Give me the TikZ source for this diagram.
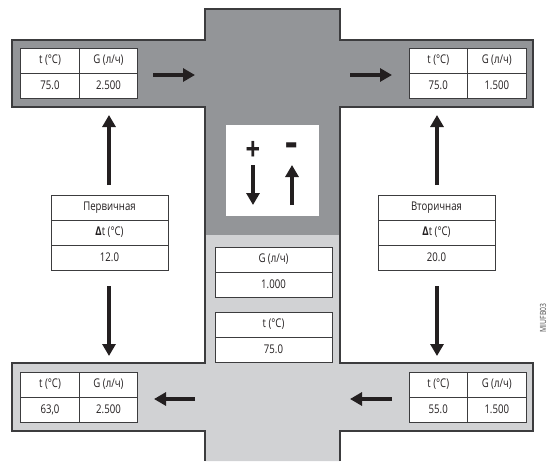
\documentclass[tikz,border=0pt]{standalone}
\usepackage{fontspec}
\setmainfont[FakeStretch=0.8]{Open Sans}
\usetikzlibrary{arrows.meta}
\definecolor{pipedark}{HTML}{939598}
\definecolor{pipelight}{HTML}{D1D2D4}
\definecolor{edgegray}{HTML}{3C3C3E}
\definecolor{ink}{HTML}{231F20}

\begin{document}
\begin{tikzpicture}[x=1pt,y=-1pt]
\tikzstyle{every node}+=[inner sep=0pt,text=ink]
\tikzstyle{cell}=[draw=edgegray,fill=white,line width=0.8pt,minimum width=58.5pt,minimum height=25pt,font=\fontsize{12}{13}\selectfont]
\tikzstyle{wide}=[cell,minimum width=117pt]
\tikzstyle{sign}=[font=\bfseries\fontsize{32}{32}\selectfont]
\tikzstyle{flow}=[ink,line width=3.6pt,-{Triangle[length=12pt,width=13pt]}]
\useasboundingbox (0,0) rectangle (548,461);
% pipes
\fill [pipedark] (12,40) -- (205,40) -- (205,9) -- (340,9) -- (340,40) -- (533,40) -- (533,107) -- (340,107) -- (340,235) -- (205,235) -- (205,107) -- (12,107) -- cycle;
\fill [pipelight] (205,235) -- (340,235) -- (340,363) -- (533,363) -- (533,431) -- (340,431) -- (340,461) -- (205,461) -- (205,431) -- (12,431) -- (12,363) -- (205,363) -- cycle;
\draw [edgegray,line width=1.3pt] (205,461) -- (205,431) -- (12,431) -- (12,363) -- (205,363) -- (205,107) -- (12,107) -- (12,40) -- (205,40) -- (205,9) -- (340,9) -- (340,40) -- (533,40) -- (533,107) -- (340,107) -- (340,363) -- (533,363) -- (533,431) -- (340,431) -- (340,461);
% supply / return tables
\node [cell] (tlt) at (50,60.5) {t (°C)};
\node [cell] (tlg) at (108.5,60.5) {G (л/ч)};
\node [cell] (tltv) at (50,85.5) {75.0};
\node [cell] (tlgv) at (108.5,85.5) {2.500};
\node [cell] (trt) at (438.25,60.5) {t (°C)};
\node [cell] (trg) at (496.75,60.5) {G (л/ч)};
\node [cell] (trtv) at (438.25,85.5) {75.0};
\node [cell] (trgv) at (496.75,85.5) {1.500};
\node [cell] (blt) at (50,384.5) {t (°C)};
\node [cell] (blg) at (108.5,384.5) {G (л/ч)};
\node [cell] (bltv) at (50,409.5) {63,0};
\node [cell] (blgv) at (108.5,409.5) {2.500};
\node [cell] (brt) at (438.25,384.5) {t (°C)};
\node [cell] (brg) at (496.75,384.5) {G (л/ч)};
\node [cell] (brtv) at (438.25,409.5) {55.0};
\node [cell] (brgv) at (496.75,409.5) {1.500};
% primary / secondary
\node [wide] (prim) at (109.5,207.5) {Первичная};
\node [wide] (primdt) at (109.5,232.5) {{\bfseries Δ}t (°C)};
\node [wide] (primv) at (109.5,257.5) {12.0};
\node [wide] (sec) at (436.5,207.5) {Вторичная};
\node [wide] (secdt) at (436.5,232.5) {{\bfseries Δ}t (°C)};
\node [wide] (secv) at (436.5,257.5) {20.0};
% bypass
\node [wide] (byg) at (273.5,259.5) {G (л/ч)};
\node [wide] (bygv) at (273.5,284.5) {1.000};
\node [wide] (byt) at (273.5,324.5) {t (°C)};
\node [wide] (bytv) at (273.5,349.5) {75.0};
\fill [white] (226,125) rectangle (319,216);
\node [sign] (plus) at (253,151) {+};
\node [sign] (minus) at (292,150) {\scalebox{1.5}[1.3]{-}};
% flow arrows
\coordinate (a1) at (153,75); \coordinate (b1) at (195,75);
\coordinate (a2) at (350,75); \coordinate (b2) at (392,75);
\coordinate (a3) at (195,399); \coordinate (b3) at (154,399);
\coordinate (a4) at (392,399); \coordinate (b4) at (350,399);
\coordinate (a5) at (109,185); \coordinate (b5) at (109,115);
\coordinate (a6) at (437,185); \coordinate (b6) at (437,115);
\coordinate (a7) at (109,286); \coordinate (b7) at (109,356);
\coordinate (a8) at (437,286); \coordinate (b8) at (437,356);
\coordinate (a9) at (253,165); \coordinate (b9) at (253,205);
\coordinate (a10) at (292,205); \coordinate (b10) at (292,165);
\foreach \i in {1,...,10}
  \draw [flow] (a\i) -- (b\i);
\node [rotate=90,font=\fontsize{8.5}{8.5}\selectfont,text=black!70] (code) at (543,318) {MIUFB03};
\end{tikzpicture}
\end{document}
